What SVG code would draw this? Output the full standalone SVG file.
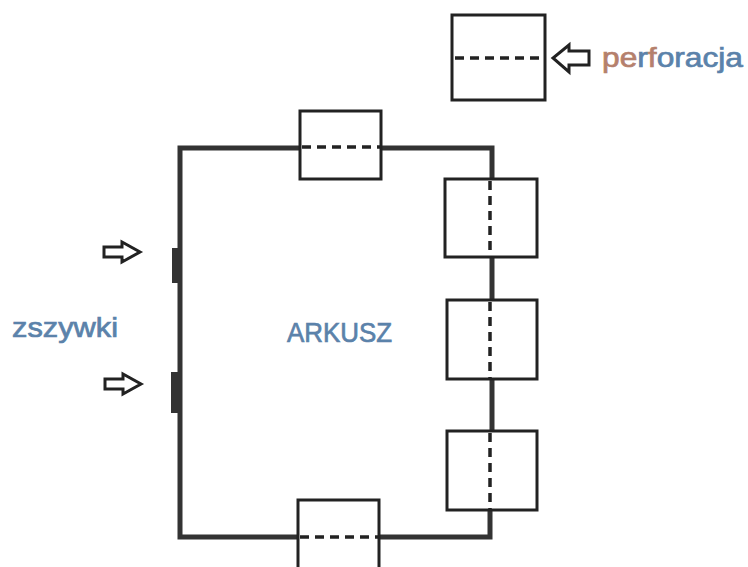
<svg xmlns="http://www.w3.org/2000/svg" width="748" height="567" viewBox="0 0 748 567">
<style>
.frame{fill:none;stroke:#333;stroke-width:5;stroke-linecap:square}
.box{fill:#fff;stroke:#222;stroke-width:3}
.perf{fill:none;stroke:#222;stroke-width:3.5;stroke-dasharray:9 6}
.arrow{fill:#fff;stroke:#222;stroke-width:3;stroke-linejoin:miter}
.staple{fill:#333}
.lbl{font-family:"Liberation Sans",Arial,sans-serif;fill:#5b82aa;stroke:#5b82aa;stroke-width:0.7}
</style>
<rect width="748" height="567" fill="#fff"/>
<g id="connectors">
<path class="frame" d="M300 148 H180 V537 H298"/>
<path class="frame" d="M381 148 H492 V177"/>
<path class="frame" d="M379 537 H490 V512"/>
<path class="frame" d="M492 259 V298" stroke-width="6"/>
<path class="frame" d="M492 381 V429" stroke-width="6"/>
</g>
<g id="staples">
<rect class="staple" x="172" y="248" width="9" height="35"/>
<rect class="staple" x="171" y="372" width="9" height="41"/>
<path class="arrow" d="M104 247 H122 V242 L140 252 L122 262 V257 H104 Z"/>
<path class="arrow" d="M105 379 H123 V374 L141 384 L123 394 V389 H105 Z"/>
<text class="lbl" x="12" y="337" font-size="27" textLength="106" lengthAdjust="spacingAndGlyphs">zszywki</text>
</g>
<g id="legend">
<rect class="box" x="452" y="15" width="93" height="85"/>
<line class="perf" x1="455" y1="58" x2="545" y2="58"/>
<path class="arrow" d="M589 51 H569 V45 L553 58 L569 72 V65 H589 Z"/>
<text class="lbl" x="602" y="67" font-size="27" textLength="141" lengthAdjust="spacingAndGlyphs"><tspan fill="#b5806c" stroke="#b5806c">pe</tspan>r<tspan fill="#b5806c" stroke="#b5806c">f</tspan>oracja</text>
</g>
<g id="top-box">
<rect class="box" x="300" y="111" width="81" height="68"/>
<line class="perf" x1="302" y1="147" x2="381" y2="147"/>
</g>
<g id="right-box-1">
<rect class="box" x="445" y="179" width="92" height="78"/>
<line class="perf" x1="490" y1="181" x2="490" y2="257"/>
</g>
<g id="right-box-2">
<rect class="box" x="447" y="300" width="90" height="79"/>
<line class="perf" x1="490" y1="302" x2="490" y2="379"/>
</g>
<g id="right-box-3">
<rect class="box" x="447" y="431" width="90" height="79"/>
<line class="perf" x1="490" y1="433" x2="490" y2="510"/>
</g>
<g id="bottom-box">
<rect class="box" x="298" y="500" width="81" height="80"/>
<line class="perf" x1="300" y1="537" x2="379" y2="537"/>
</g>
<g id="sheet">
<text class="lbl" x="287" y="342" font-size="28" textLength="105" lengthAdjust="spacingAndGlyphs">ARKUSZ</text>
</g>
</svg>
